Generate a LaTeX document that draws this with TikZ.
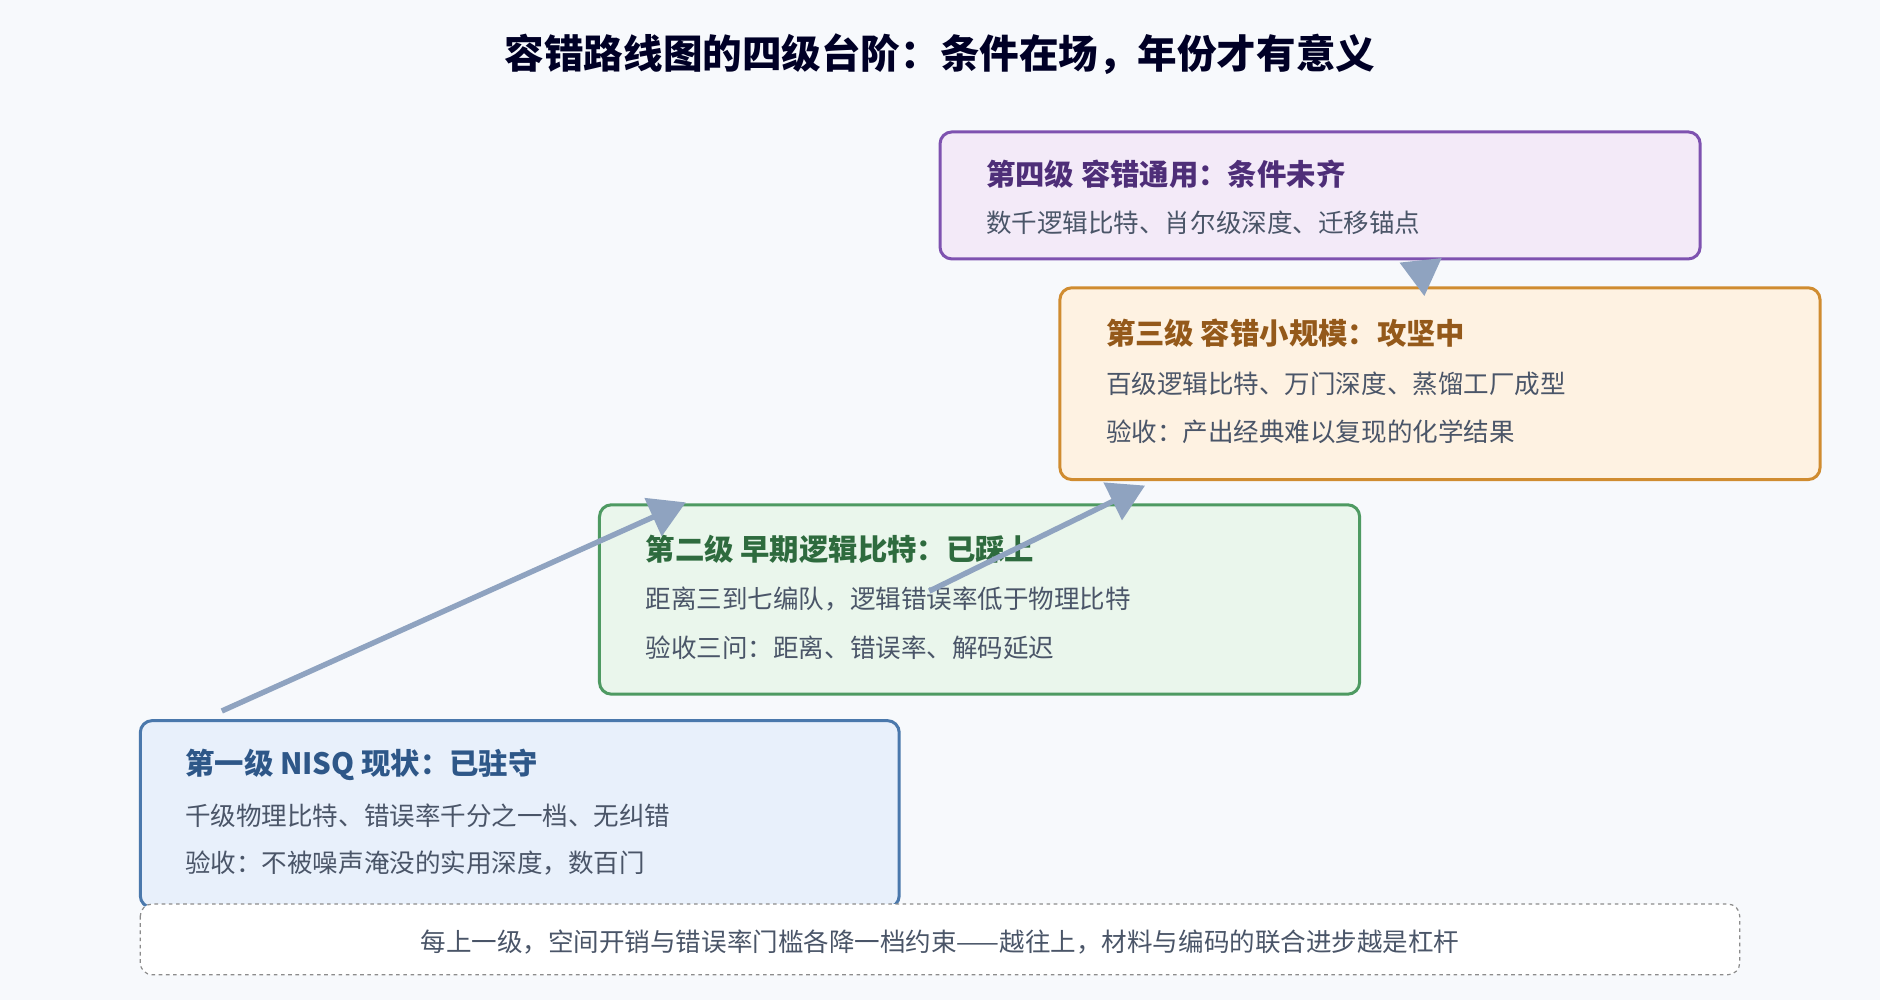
\documentclass[tikz,border=0pt]{standalone}
\usepackage{fontspec}
\setmainfont{Noto Sans CJK SC}
\usetikzlibrary{arrows.meta}
\definecolor{bg}{HTML}{F7F9FC}
\definecolor{arr}{HTML}{8FA3C0}
\definecolor{s1}{HTML}{4A78AC}\definecolor{f1}{HTML}{E8F0FB}\definecolor{t1}{HTML}{2E5788}
\definecolor{s2}{HTML}{4E9A62}\definecolor{f2}{HTML}{EAF6EC}\definecolor{t2}{HTML}{2E6B3E}
\definecolor{s3}{HTML}{D08C30}\definecolor{f3}{HTML}{FEF2E2}\definecolor{t3}{HTML}{94591A}
\definecolor{s4}{HTML}{7E52B0}\definecolor{f4}{HTML}{F3EAF8}\definecolor{t4}{HTML}{4E2E78}
\definecolor{tx}{HTML}{4A5568}
\begin{document}
\begin{tikzpicture}[x=1pt,y=-1pt,
  box/.style={draw,line width=2.5pt,rounded corners=10pt},
  ttl/.style={anchor=west,font=\fontsize{24.5}{28}\selectfont\bfseries},
  txt/.style={anchor=west,font=\fontsize{21.3}{25}\selectfont,text=tx},
  con/.style={draw=arr,line width=4.5pt,-{Triangle[length=30pt,width=34pt]}}]
\fill[bg] (0,0) rectangle (1568,834);
\useasboundingbox (0,0) rectangle (1568,834);
\node[font=\fontsize{33}{37}\selectfont\bfseries,text=black!85!blue] (t) at (784,45) {容错路线图的四级台阶：条件在场，年份才有意义};
% boxes
\draw[box,draw=s1,fill=f1] (117,601) rectangle (750,757);
\node[ttl,text=t1] (a1) at (151,638) {第一级 NISQ 现状：已驻守};
\node[txt] (a2) at (151,680) {千级物理比特、错误率千分之一档、无纠错};
\node[txt] (a3) at (151,720) {验收：不被噪声淹没的实用深度，数百门};
\draw[box,draw=s2,fill=f2] (500,421) rectangle (1134,579);
\node[ttl,text=t2] (b1) at (535,458) {第二级 早期逻辑比特：已踩上};
\node[txt] (b2) at (535,500) {距离三到七编队，逻辑错误率低于物理比特};
\node[txt] (b3) at (535,540) {验收三问：距离、错误率、解码延迟};
\draw[box,draw=s3,fill=f3] (884,240) rectangle (1518,400);
\node[ttl,text=t3] (c1) at (919,278) {第三级 容错小规模：攻坚中};
\node[txt] (c2) at (919,320) {百级逻辑比特、万门深度、蒸馏工厂成型};
\node[txt] (c3) at (919,360) {验收：产出经典难以复现的化学结果};
\draw[box,draw=s4,fill=f4] (784,110) rectangle (1418,216);
\node[ttl,text=t4] (d1) at (819,145) {第四级 容错通用：条件未齐};
\node[txt] (d2) at (819,186) {数千逻辑比特、肖尔级深度、迁移锚点};
\draw[dashed,draw=black!45,line width=1pt,rounded corners=10pt,fill=white] (117,754) rectangle (1451,813);
\node[font=\fontsize{21.3}{25}\selectfont,text=tx] (n) at (784,786) {每上一级，空间开销与错误率门槛各降一档约束——越往上，材料与编码的联合进步越是杠杆};
% connectors
\coordinate (p1) at (185,593); \coordinate (q1) at (572,419);
\coordinate (p2) at (775,493); \coordinate (q2) at (955,405);
\coordinate (p3) at (1185,219); \coordinate (q3) at (1188,247);
\path[con] (p1) -- (q1);
\path[con] (p2) -- (q2);
\path[con,shorten <=-2pt] (p3) -- (q3);
\end{tikzpicture}
\end{document}
